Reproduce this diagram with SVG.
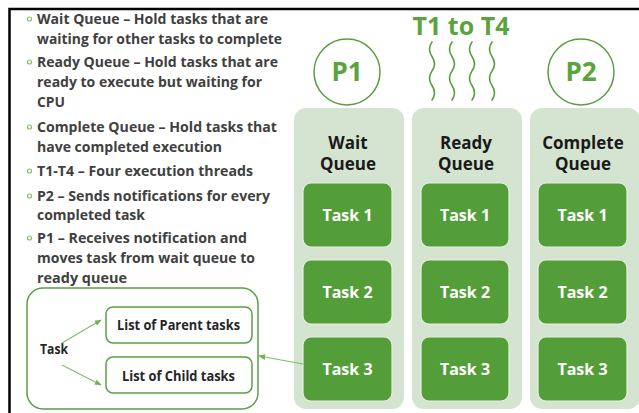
<svg xmlns="http://www.w3.org/2000/svg" width="639" height="413" viewBox="0 0 639 413">
  <style>
    .bul { font-family: "Open Sans", "Liberation Sans", sans-serif; font-weight: 700; font-size: 15px; fill: #404040; }
    .dot { fill: none; stroke: #8cbd6c; stroke-width: 1.2; }
    .col { fill: #d5e3d1; }
    .task { fill: #549e39; stroke: #e6efe1; stroke-width: 1.2; }
    .tasktxt { font-family: "Open Sans", "Liberation Sans", sans-serif; font-weight: 700; font-size: 16px; fill: #ffffff; text-anchor: middle; }
    .head { font-family: "Open Sans", "Liberation Sans", sans-serif; font-weight: 700; font-size: 17px; fill: #1a1a1a; text-anchor: middle; }
    .green { font-family: "Open Sans", "Liberation Sans", sans-serif; font-weight: 700; fill: #5aa33d; text-anchor: middle; }
    .ring { fill: none; stroke: #5a9e44; stroke-width: 1.5; }
    .wave { fill: none; stroke: #5a9e44; stroke-width: 1.6; stroke-linecap: round; }
    .box { fill: #ffffff; stroke: #5a9e44; stroke-width: 1.5; }
    .lbl { font-family: "Open Sans", "Liberation Sans", sans-serif; font-weight: 700; font-size: 14px; fill: #262626; }
    .conn { fill: none; stroke: #7fbf66; stroke-width: 1.2; marker-end: url(#ah); }
  </style>
  <defs>
    <marker id="ah" viewBox="0 0 10 10" refX="9" refY="5" markerWidth="7" markerHeight="7" orient="auto" markerUnits="userSpaceOnUse">
      <path d="M0,1 L10,5 L0,9 Z" fill="#6cb552"/>
    </marker>
  </defs>

  <rect width="639" height="413" fill="#ffffff"/>

  <!-- page frame -->
  <path d="M9.5,413 V9 H639" fill="none" stroke="#000000" stroke-width="2.5"/>

  <!-- bullet list -->
  <g id="legend">
    <circle class="dot" cx="29.5" cy="19" r="2"/>
    <text class="bul" x="37" y="24" textLength="231" lengthAdjust="spacingAndGlyphs">Wait Queue – Hold tasks that are</text>
    <text class="bul" x="37" y="44" textLength="245" lengthAdjust="spacingAndGlyphs">waiting for other tasks to complete</text>
    <circle class="dot" cx="29.5" cy="62" r="2"/>
    <text class="bul" x="37" y="67" textLength="241" lengthAdjust="spacingAndGlyphs">Ready Queue – Hold tasks that are</text>
    <text class="bul" x="37" y="87" textLength="225" lengthAdjust="spacingAndGlyphs">ready to execute but waiting for</text>
    <text class="bul" x="37" y="107" textLength="28" lengthAdjust="spacingAndGlyphs">CPU</text>
    <circle class="dot" cx="29.5" cy="127" r="2"/>
    <text class="bul" x="37" y="132" textLength="240" lengthAdjust="spacingAndGlyphs">Complete Queue – Hold tasks that</text>
    <text class="bul" x="37" y="152" textLength="185" lengthAdjust="spacingAndGlyphs">have completed execution</text>
    <circle class="dot" cx="29.5" cy="171" r="2"/>
    <text class="bul" x="37" y="176" textLength="216" lengthAdjust="spacingAndGlyphs">T1-T4 – Four execution threads</text>
    <circle class="dot" cx="29.5" cy="196" r="2"/>
    <text class="bul" x="37" y="201" textLength="233" lengthAdjust="spacingAndGlyphs">P2 – Sends notifications for every</text>
    <text class="bul" x="37" y="220" textLength="108" lengthAdjust="spacingAndGlyphs">completed task</text>
    <circle class="dot" cx="29.5" cy="238" r="2"/>
    <text class="bul" x="37" y="243" textLength="210" lengthAdjust="spacingAndGlyphs">P1 – Receives notification and</text>
    <text class="bul" x="37" y="263" textLength="218" lengthAdjust="spacingAndGlyphs">moves task from wait queue to</text>
    <text class="bul" x="37" y="283" textLength="90" lengthAdjust="spacingAndGlyphs">ready queue</text>
  </g>

  <!-- task structure -->
  <g id="task-struct">
    <rect class="box" x="27" y="288" width="231" height="121" rx="16"/>
    <text class="lbl" x="40" y="354" textLength="28" lengthAdjust="spacingAndGlyphs">Task</text>
  </g>
  <g id="parent-list">
    <rect class="box" x="106" y="307" width="146" height="36" rx="7"/>
    <text class="lbl" x="117" y="330" textLength="123" lengthAdjust="spacingAndGlyphs">List of Parent tasks</text>
  </g>
  <g id="child-list">
    <rect class="box" x="106" y="357" width="146" height="36" rx="7"/>
    <text class="lbl" x="122" y="381" textLength="113" lengthAdjust="spacingAndGlyphs">List of Child tasks</text>
  </g>

  <!-- processes and threads -->
  <g id="p1">
    <circle class="ring" cx="347" cy="72" r="33"/>
    <text class="green" x="347" y="81" font-size="26">P1</text>
  </g>
  <g id="p2">
    <circle class="ring" cx="581" cy="72" r="33"/>
    <text class="green" x="581" y="81" font-size="26">P2</text>
  </g>
  <g id="threads">
    <text class="green" x="461" y="35" font-size="25">T1 to T4</text>
    <path class="wave" d="M432,42 q-5,7 0,14.5 t0,14.5 t0,14.5 t0,14.5"/>
    <path class="wave" d="M452,42 q-5,7 0,14.5 t0,14.5 t0,14.5 t0,14.5"/>
    <path class="wave" d="M472,42 q-5,7 0,14.5 t0,14.5 t0,14.5 t0,14.5"/>
    <path class="wave" d="M492,42 q-5,7 0,14.5 t0,14.5 t0,14.5 t0,14.5"/>
  </g>

  <!-- queues -->
  <g id="wait-queue">
    <rect class="col" x="294" y="108" width="110" height="301" rx="12"/>
    <text class="head" x="348" y="149">Wait</text>
    <text class="head" x="348" y="170">Queue</text>
  </g>
  <g id="ready-queue">
    <rect class="col" x="412" y="108" width="110" height="301" rx="12"/>
    <text class="head" x="466" y="149">Ready</text>
    <text class="head" x="466" y="170">Queue</text>
  </g>
  <g id="complete-queue">
    <rect class="col" x="530" y="108" width="110" height="301" rx="12"/>
    <text class="head" x="583" y="149">Complete</text>
    <text class="head" x="583" y="170">Queue</text>
  </g>

  <g id="wait-task1"><rect class="task" x="303" y="183" width="89" height="64" rx="8"/><text class="tasktxt" x="347.5" y="221">Task 1</text></g>
  <g id="wait-task2"><rect class="task" x="303" y="260" width="89" height="64" rx="8"/><text class="tasktxt" x="347.5" y="298">Task 2</text></g>
  <g id="wait-task3"><rect class="task" x="303" y="337" width="89" height="64" rx="8"/><text class="tasktxt" x="347.5" y="375">Task 3</text></g>

  <g id="ready-task1"><rect class="task" x="421" y="183" width="88" height="64" rx="8"/><text class="tasktxt" x="465" y="221">Task 1</text></g>
  <g id="ready-task2"><rect class="task" x="421" y="260" width="88" height="64" rx="8"/><text class="tasktxt" x="465" y="298">Task 2</text></g>
  <g id="ready-task3"><rect class="task" x="421" y="337" width="88" height="64" rx="8"/><text class="tasktxt" x="465" y="375">Task 3</text></g>

  <g id="complete-task1"><rect class="task" x="538" y="183" width="89" height="64" rx="8"/><text class="tasktxt" x="582.5" y="221">Task 1</text></g>
  <g id="complete-task2"><rect class="task" x="538" y="260" width="89" height="64" rx="8"/><text class="tasktxt" x="582.5" y="298">Task 2</text></g>
  <g id="complete-task3"><rect class="task" x="538" y="337" width="89" height="64" rx="8"/><text class="tasktxt" x="582.5" y="375">Task 3</text></g>

  <!-- connectors -->
  <g id="connectors">
    <path class="conn" d="M62,343 L101,320"/>
    <path class="conn" d="M62,365 L101,385"/>
    <path class="conn" d="M303,364 L259,356"/>
  </g>
</svg>
